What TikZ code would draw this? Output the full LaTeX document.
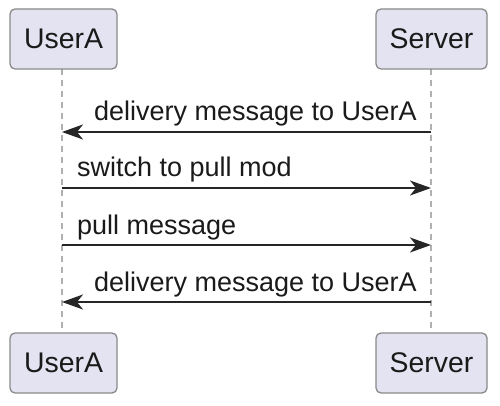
\documentclass[tikz,border=0pt]{standalone}
\usepackage{fontspec}
\setmainfont{Liberation Sans}
\usetikzlibrary{arrows.meta}
\definecolor{boxfill}{HTML}{E3E3F1}
\definecolor{boxdraw}{HTML}{8A8A8A}
\definecolor{txt}{HTML}{1A1A1A}
\definecolor{life}{HTML}{B0B0B0}
\definecolor{msg}{HTML}{262626}
\tikzset{
  participant/.style={draw=boxdraw, line width=1.3pt, fill=boxfill, rounded corners=5pt,
    minimum width=#1, minimum height=60pt, inner sep=0pt, text=txt,
    font=\fontsize{28.4}{30}\selectfont},
  lifeline/.style={draw=life, line width=1.5pt, dash pattern=on 6pt off 5pt},
  message/.style={draw=msg, line width=2pt, -{Stealth[length=21pt, width=15pt, inset=6pt]}},
  msglabel/.style={text=txt, inner sep=0pt, font=\fontsize{27}{30}\selectfont},
}
\begin{document}
\begin{tikzpicture}[x=1pt, y=-1pt]
\useasboundingbox (0,0) rectangle (500,406);
% lifelines
\draw[lifeline] (62,69) -- (62,333);
\draw[lifeline] (431,69) -- (431,333);
% participants
\node[participant=107pt] (ua) at (63.5,39) {UserA};
\node[participant=111pt] (sv) at (431.5,39) {Server};
\node[participant=107pt] (ub) at (63.5,363) {UserA};
\node[participant=111pt] (sb) at (431.5,363) {Server};
% message endpoints on lifelines
\coordinate (a1) at (62,132); \coordinate (s1) at (431,132);
\coordinate (a2) at (62,188); \coordinate (s2) at (431,188);
\coordinate (a3) at (62,245); \coordinate (s3) at (431,245);
\coordinate (a4) at (62,302); \coordinate (s4) at (431,302);
\draw[message] (s1) -- (a1);
\draw[message] (a2) -- (s2);
\draw[message] (a3) -- (s3);
\draw[message] (s4) -- (a4);
% labels
\node[msglabel, anchor=base east] (l1) at (417,121) {delivery message to UserA};
\node[msglabel, anchor=base west] (l2) at (77,177) {switch to pull mod};
\node[msglabel, anchor=base west] (l3) at (77,234) {pull message};
\node[msglabel, anchor=base east] (l4) at (417,291) {delivery message to UserA};
\end{tikzpicture}
\end{document}
